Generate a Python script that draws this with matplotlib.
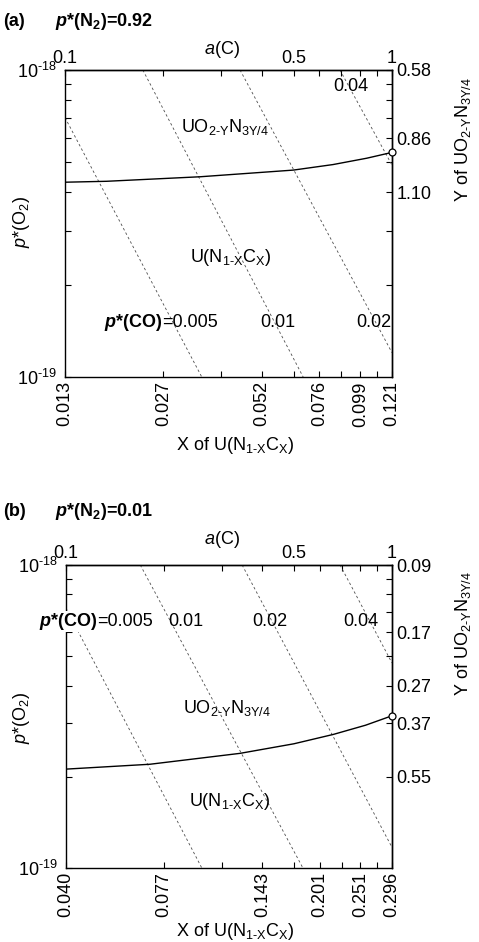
import matplotlib
matplotlib.use("Agg")
import matplotlib.pyplot as plt
from matplotlib.ticker import NullFormatter

plt.rcParams["font.family"] = ["Liberation Sans", "DejaVu Sans"]
plt.rcParams["mathtext.fontset"] = "custom"
plt.rcParams["mathtext.rm"] = "Liberation Sans"
plt.rcParams["mathtext.it"] = "Liberation Sans:italic"
plt.rcParams["mathtext.bf"] = "Liberation Sans:bold:italic"
plt.rcParams["mathtext.default"] = "regular"

# a(C) positions of the bottom ticks, and X of U(N1-xCx) at those positions
ac_major = [0.1, 0.2, 0.4, 0.6, 0.8, 1.0]
ac_minor = [0.3, 0.5, 0.7, 0.9]
x_labels_a = ["0.013", "0.027", "0.052", "0.076", "0.099", "0.121"]
x_labels_b = ["0.040", "0.077", "0.143", "0.201", "0.251", "0.296"]

# right axis: Y of UO2-YN3Y/4 at given p*(O2)
y_pos_a = [1e-18, 6e-19, 4e-19]
y_labels_a = ["0.58", "0.86", "1.10"]
y_pos_b = [1e-18, 6e-19, 4e-19, 3e-19, 2e-19]
y_labels_b = ["0.09", "0.17", "0.27", "0.37", "0.55"]

# UO2-YN3Y/4 / U(N1-xCx) boundary
bound_ac_a = [0.1, 0.134, 0.259, 0.499, 0.66, 0.837, 1.0]
bound_po2_a = [4.31e-19, 4.34e-19, 4.49e-19, 4.72e-19, 4.92e-19, 5.16e-19, 5.39e-19]
bound_ac_b = [0.1, 0.181, 0.342, 0.5, 0.661, 0.83, 1.0]
bound_po2_b = [2.12e-19, 2.20e-19, 2.39e-19, 2.57e-19, 2.76e-19, 2.96e-19, 3.18e-19]

# iso p*(CO) lines: (a(C) start, a(C) end), (p*(O2) start, p*(O2) end)
pco = ["0.005", "0.01", "0.02", "0.04"]
iso_ac_a = [(0.1, 0.262), (0.173, 0.535), (0.343, 1.0), (0.693, 1.0)]
iso_po2_a = [(7.0e-19, 1e-19), (1e-18, 1e-19), (1e-18, 1.2e-19), (1e-18, 4.9e-19)]
iso_ac_b = [(0.1, 0.261), (0.169, 0.533), (0.347, 1.0), (0.693, 1.0)]
iso_po2_b = [(7.2e-19, 1e-19), (1e-18, 1e-19), (1e-18, 1.17e-19), (1e-18, 4.75e-19)]

W, H = 479, 942
FS = 13
UO2 = r"UO$_{2\text{-}Y}$N$_{3Y/4}$"
UNC = r"U(N$_{1\text{-}X}$C$_X$)"


def ident(v):
    return v


def panel(rect, xlabels, ypos, ylabels, bac, bpo, iac, ipo):
    ax = fig.add_axes(rect)
    ax.set_xscale("log")
    ax.set_yscale("log")
    ax.set_xlim(0.1, 1.0)
    ax.set_ylim(1e-19, 1e-18)

    for (a0, a1), (p0, p1) in zip(iac, ipo):
        ax.plot([a0, a1], [p0, p1], color="0.3", lw=0.6, ls=(0, (3, 3)))
    ax.plot(bac, bpo, color="black", lw=1.0)
    ax.plot(bac[-1:], bpo[-1:], "o", ms=5, mfc="white", mec="black", mew=0.9,
            clip_on=False, zorder=5)

    ax.set_xticks(ac_major, xlabels, rotation=90)
    ax.set_xticks(ac_minor, minor=True)
    ax.xaxis.set_minor_formatter(NullFormatter())
    ax.set_yticks([1e-19, 1e-18], [r"10$^{\text{-}19}$", r"10$^{\text{-}18}$"])
    ax.set_yticks([k * 1e-19 for k in range(2, 10)], minor=True)
    ax.yaxis.set_minor_formatter(NullFormatter())
    ax.tick_params(which="both", direction="in", length=4, width=0.8,
                   labelsize=FS, top=False, right=False)
    ax.tick_params(axis="x", pad=3)
    ax.tick_params(axis="y", pad=6)

    top = ax.secondary_xaxis("top", functions=(ident, ident))
    top.set_xticks([0.1, 0.5, 1.0], ["0.1", "0.5", "1"])
    top.set_xticks([0.2, 0.3, 0.4, 0.6, 0.7, 0.8, 0.9], minor=True)
    top.xaxis.set_minor_formatter(NullFormatter())
    top.tick_params(which="both", direction="in", length=4, width=0.8,
                    labelsize=FS, pad=2)

    right = ax.secondary_yaxis("right", functions=(ident, ident))
    right.set_yticks(ypos, ylabels)
    right.set_yticks([k * 1e-19 for k in range(2, 10) if k * 1e-19 not in ypos],
                     minor=True)
    right.yaxis.set_minor_formatter(NullFormatter())
    right.tick_params(which="both", direction="in", length=4, width=0.8,
                      labelsize=FS, pad=3)

    for s in list(ax.spines.values()) + [top.spines["top"], right.spines["right"]]:
        s.set_linewidth(1.0)
    return ax


def px(x, y):
    return x / W, 1 - y / H


fig = plt.figure(figsize=(W / 100, H / 100), dpi=100)

# ---------------- (a) ----------------
ax_a = panel([65 / W, 1 - 377 / H, 327 / W, 307 / H], x_labels_a, y_pos_a, y_labels_a,
             bound_ac_a, bound_po2_a, iso_ac_a, iso_po2_a)
fig.text(*px(3, 22), "(a)", fontsize=FS, fontweight="bold", va="center")
fig.text(*px(55, 22), r"$\mathbf{p}$*(N$_2$)=0.92", fontsize=FS, fontweight="bold",
         va="center")
fig.text(*px(222, 50), r"$\mathit{a}$(C)", fontsize=FS, ha="center", va="center")
fig.text(*px(22, 222), r"$\mathit{p}$*(O$_2$)", fontsize=FS, rotation=90,
         ha="center", va="center")
fig.text(*px(463, 140), "Y of " + UO2, fontsize=FS, rotation=90, ha="center",
         va="center")
fig.text(*px(235, 445), "X of " + UNC, fontsize=FS, ha="center", va="center")

t = ax_a.transAxes
ax_a.text(0.489, 0.814, UO2, transform=t, fontsize=FS, ha="center", va="center")
ax_a.text(0.505, 0.388, UNC, transform=t, fontsize=FS, ha="center", va="center")
ax_a.text(0.297, 0.179, r"$\mathbf{p}$*(CO)", transform=t, fontsize=FS,
          fontweight="bold", ha="right", va="center")
ax_a.text(0.297, 0.179, "=" + pco[0], transform=t, fontsize=FS, ha="left", va="center")
ax_a.text(0.651, 0.179, pco[1], transform=t, fontsize=FS, ha="center", va="center")
ax_a.text(0.945, 0.179, pco[2], transform=t, fontsize=FS, ha="center", va="center")
ax_a.text(0.875, 0.945, pco[3], transform=t, fontsize=FS, ha="center", va="center")

# ---------------- (b) ----------------
ax_b = panel([66 / W, 1 - 868 / H, 326 / W, 303 / H], x_labels_b, y_pos_b, y_labels_b,
             bound_ac_b, bound_po2_b, iso_ac_b, iso_po2_b)
fig.text(*px(3, 512), "(b)", fontsize=FS, fontweight="bold", va="center")
fig.text(*px(55, 512), r"$\mathbf{p}$*(N$_2$)=0.01", fontsize=FS, fontweight="bold",
         va="center")
fig.text(*px(222, 540), r"$\mathit{a}$(C)", fontsize=FS, ha="center", va="center")
fig.text(*px(22, 718), r"$\mathit{p}$*(O$_2$)", fontsize=FS, rotation=90,
         ha="center", va="center")
fig.text(*px(463, 634), "Y of " + UO2, fontsize=FS, rotation=90, ha="center",
         va="center")
fig.text(*px(235, 932), "X of " + UNC, fontsize=FS, ha="center", va="center")

t = ax_b.transAxes
ax_b.text(0.494, 0.528, UO2, transform=t, fontsize=FS, ha="center", va="center")
ax_b.text(0.503, 0.218, UNC, transform=t, fontsize=FS, ha="center", va="center")
ax_b.text(0.095, 0.812, r"$\mathbf{p}$*(CO)", transform=t, fontsize=FS,
          fontweight="bold", ha="right", va="center", clip_on=False, zorder=6,
          bbox=dict(facecolor="white", edgecolor="none", pad=0))
ax_b.text(0.095, 0.812, "=" + pco[0], transform=t, fontsize=FS, ha="left",
          va="center", clip_on=False, zorder=6,
          bbox=dict(facecolor="white", edgecolor="none", pad=0))
ax_b.text(0.368, 0.812, pco[1], transform=t, fontsize=FS, ha="center", va="center")
ax_b.text(0.626, 0.812, pco[2], transform=t, fontsize=FS, ha="center", va="center")
ax_b.text(0.905, 0.812, pco[3], transform=t, fontsize=FS, ha="center", va="center")

fig.savefig("out.png", dpi=100)
